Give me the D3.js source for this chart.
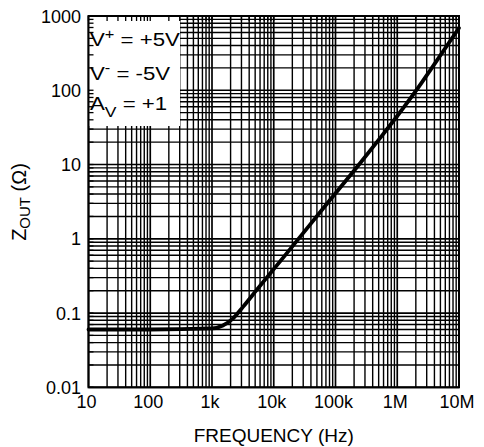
<!DOCTYPE html>
<html><head><meta charset="utf-8">
<script src="https://cdn.jsdelivr.net/npm/d3@7"></script>
<style>
html,body{margin:0;padding:0;background:#fff;}
svg{display:block;font-family:Arial,"Liberation Sans",Helvetica,sans-serif;}
</style></head>
<body>
<svg id="chart" width="484" height="447"></svg>
<script>
// ---- data ----
const freqHz = [10, 100, 1000, 1500, 2200, 3200, 5300, 7700, 10000, 100000, 250000, 500000, 1000000, 2000000, 4000000, 10000000];
const zOut   = [0.06, 0.06, 0.062, 0.068, 0.085, 0.122, 0.205, 0.30, 0.39, 4.1, 10.4, 21.5, 45, 98, 225, 690];
const xTickValues = [10, 100, 1000, 10000, 100000, 1000000, 10000000];
const xTickLabels = ["10", "100", "1k", "10k", "100k", "1M", "10M"];
const yTickValues = [0.01, 0.1, 1, 10, 100, 1000];
const yTickLabels = ["0.01", "0.1", "1", "10", "100", "1000"];
const xTitle = "FREQUENCY (Hz)";

const svg = d3.select("#chart");
const L = 88.5, R = 459, T = 16, B = 387.3;
const x = d3.scaleLog().domain([10, 1e7]).range([L, R]);
const y = d3.scaleLog().domain([0.01, 1000]).range([B, T]);

// grid
const g = svg.append("g");
const xg = x.ticks();
const yg = y.ticks();
g.selectAll("line.vx").data(xg).enter().append("line")
  .attr("x1", d => x(d)).attr("x2", d => x(d)).attr("y1", T).attr("y2", B)
  .attr("stroke", "#000").attr("stroke-width", d => xTickValues.includes(d) ? 1.7 : 1.4);
g.selectAll("line.hy").data(yg).enter().append("line")
  .attr("y1", d => y(d)).attr("y2", d => y(d)).attr("x1", L).attr("x2", R)
  .attr("stroke", "#000").attr("stroke-width", d => yTickValues.includes(d) ? 1.7 : 1.4);

// legend box
svg.append("rect").attr("x", L).attr("y", T).attr("width", 180 - L).attr("height", 126 - T).attr("fill", "#fff");
// edge ticks (visible inside legend box)
const tk = svg.append("g").attr("stroke", "#000").attr("stroke-width", 1.3);
xg.forEach(d => { tk.append("line").attr("x1", x(d)).attr("x2", x(d)).attr("y1", T).attr("y2", T + 5); });
yg.forEach(d => { tk.append("line").attr("y1", y(d)).attr("y2", y(d)).attr("x1", L).attr("x2", L + 5); });

// frame
svg.append("rect").attr("x", L).attr("y", T).attr("width", R - L).attr("height", B - T)
  .attr("fill", "none").attr("stroke", "#000").attr("stroke-width", 2);

// curve
const pts = freqHz.map((f, i) => [f, zOut[i]]);
svg.append("path").datum(pts)
  .attr("d", d3.line().x(d => x(d[0])).y(d => y(d[1])).curve(d3.curveMonotoneX))
  .attr("fill", "none").attr("stroke", "#000").attr("stroke-width", 3.8).attr("stroke-linecap", "round");

// tick labels
svg.append("g").selectAll("text").data(xTickValues).enter().append("text")
  .attr("x", d => x(d) - 2).attr("y", 408).attr("text-anchor", "middle")
  .attr("font-size", 18).text((d, i) => xTickLabels[i]);
svg.append("g").selectAll("text").data(yTickValues).enter().append("text")
  .attr("x", 81).attr("y", d => y(d) + 6.5).attr("text-anchor", "end")
  .attr("font-size", 18).text((d, i) => yTickLabels[i]);

// axis titles
svg.append("text").attr("x", (L + R) / 2).attr("y", 441.5).attr("text-anchor", "middle")
  .attr("font-size", 19).text(xTitle);
const yt = svg.append("text").attr("transform", "translate(26,202) rotate(-90)")
  .attr("text-anchor", "middle").attr("font-size", 20);
yt.append("tspan").text("Z");
yt.append("tspan").attr("font-size", 15).attr("dy", 4).text("OUT");
yt.append("tspan").attr("dy", -4).text(" (Ω)");

// legend text (slightly wide lettering, as in the reference)
const lg = svg.append("g").attr("font-size", 19);
const t1 = lg.append("text").attr("transform", "translate(90,46) scale(1.17,1)");
t1.append("tspan").text("V");
t1.append("tspan").attr("font-size", 14).attr("dy", -7).text("+");
t1.append("tspan").attr("dy", 7).text(" = +5V");
const t2 = lg.append("text").attr("transform", "translate(90,80) scale(1.17,1)");
t2.append("tspan").text("V");
t2.append("tspan").attr("font-size", 14).attr("dy", -7).text("-");
t2.append("tspan").attr("dy", 7).text(" = -5V");
const t3 = lg.append("text").attr("transform", "translate(90,110) scale(1.17,1)");
t3.append("tspan").text("A");
t3.append("tspan").attr("font-size", 15).attr("dy", 7).text("V");
t3.append("tspan").attr("dy", -7).text(" = +1");
</script>
</body></html>
